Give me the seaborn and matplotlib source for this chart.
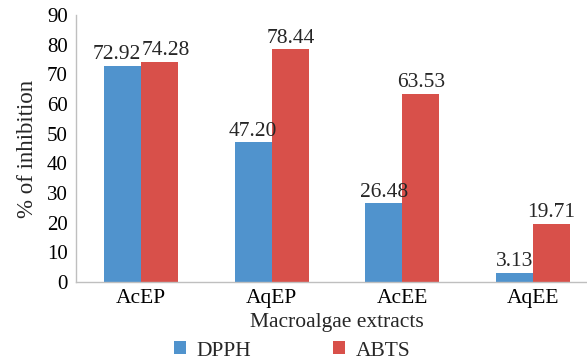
import matplotlib
matplotlib.use("Agg")
import matplotlib.pyplot as plt
import seaborn as sns
import pandas as pd
from matplotlib.patches import Patch

categories = ["AcEP", "AqEP", "AcEE", "AqEE"]
dpph = [72.92, 47.20, 26.48, 3.13]
abts = [74.28, 78.44, 63.53, 19.71]
series_names = ["DPPH", "ABTS"]
colors = ["#5093cd", "#d8504a"]

df = pd.DataFrame({
    "cat": categories * 2,
    "val": dpph + abts,
    "series": [series_names[0]] * 4 + [series_names[1]] * 4,
})

sns.set_style("white")
plt.rcParams["font.family"] = ["Liberation Serif", "DejaVu Serif"]

W, H = 587, 360
fig = plt.figure(figsize=(W / 100, H / 100), dpi=100)
ax = fig.add_axes([76 / W, 1 - 282 / H, (598 - 76) / W, (282 - 15) / H])

sns.barplot(data=df, x="cat", y="val", hue="series", palette=colors,
            width=0.57, ax=ax, legend=False, saturation=1, linewidth=0)

for i, cont in enumerate(ax.containers):
    texts = ax.bar_label(cont, labels=[f"{v:.2f}" for v in cont.datavalues],
                         padding=1, fontsize=15.5)
    dx = -4 if i == 0 else 4
    texts[0].xyann = (dx, texts[0].xyann[1])

ax.set_ylim(0, 90)
ax.set_yticks(range(0, 91, 10))
ax.set_xlim(-0.5, 3.5)
ax.tick_params(axis="both", labelsize=15.5, colors="#000000")
ax.tick_params(axis="y", length=4, color="#bfbfbf", width=1, pad=2, labelsize=15)
ax.tick_params(axis="x", length=0, pad=5)
ax.set_xticks([0.5, 1.5, 2.5], minor=True)
ax.tick_params(axis="x", which="minor", length=4, color="#bfbfbf", direction="out")
for lbl in ax.get_xticklabels():
    lbl.set_x(lbl.get_position()[0])
for s in ["top", "right"]:
    ax.spines[s].set_visible(False)
for s in ["left", "bottom"]:
    ax.spines[s].set_color("#bfbfbf")
    ax.spines[s].set_linewidth(1)

ax.set_xlabel("Macroalgae extracts", fontsize=15.5, labelpad=4)
ax.set_ylabel("% of inhibition", fontsize=16.5, labelpad=6)

handles = [Patch(facecolor=c, edgecolor="none") for c in colors]
fig.legend(handles, series_names, loc="center", ncol=2,
           bbox_to_anchor=(292 / W, 1 - 351 / H), frameon=False,
           fontsize=15.5, handlelength=0.55, handleheight=0.55,
           handletextpad=0.5, columnspacing=3.8, borderpad=0)

fig.savefig("out.png", dpi=100)
